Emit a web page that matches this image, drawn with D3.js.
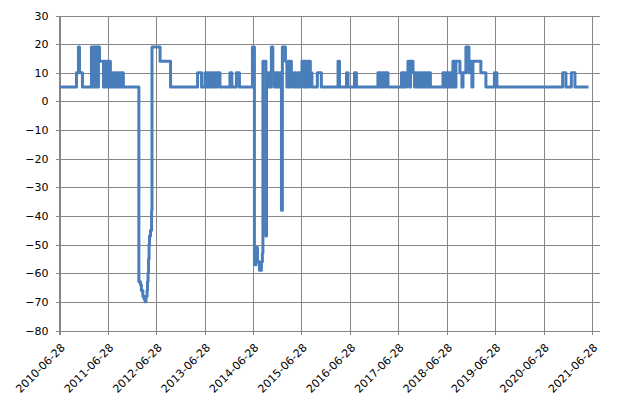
<!DOCTYPE html>
<html>
<head>
<meta charset="utf-8">
<script src="https://cdnjs.cloudflare.com/ajax/libs/d3/7.8.5/d3.min.js"></script>
<style>
  body { margin: 0; background: #fff; }
  .grid line, .grid path { stroke: #868686; shape-rendering: crispEdges; }
  .tick text { font-family: "DejaVu Sans", sans-serif; font-size: 11px; fill: #000; }
  .line { fill: none; stroke: #4a7ebb; stroke-width: 3px; stroke-linejoin: round; }
</style>
</head>
<body>
<div id="chart"></div>
<script>
// change points of the series (value holds until the next date)
var dates = [
  "2010-06-28","2010-11-03","2010-11-18","2010-11-26","2010-12-18",
  "2011-02-24","2011-03-07","2011-03-15","2011-03-26","2011-04-03","2011-04-14","2011-04-18","2011-04-26",
  "2011-05-26","2011-06-02","2011-06-13","2011-06-21","2011-07-02","2011-07-10","2011-07-17",
  "2011-07-25","2011-08-05","2011-08-13","2011-08-24","2011-09-01","2011-09-12","2011-09-19","2011-10-01","2011-10-08","2011-10-23",
  "2012-02-17","2012-02-29","2012-03-07","2012-03-18","2012-03-27","2012-04-04","2012-04-11","2012-04-19",
  "2012-04-22","2012-04-26","2012-04-30","2012-05-04","2012-05-07","2012-05-15","2012-05-23","2012-05-26",
  "2012-07-26","2012-10-13",
  "2013-05-05","2013-06-04",
  "2013-06-30","2013-07-11","2013-07-19","2013-07-30","2013-08-07","2013-08-18","2013-08-26","2013-09-06","2013-09-13","2013-09-24","2013-10-02","2013-10-21",
  "2014-01-04","2014-01-19","2014-02-22","2014-03-17",
  "2014-06-23","2014-07-08","2014-07-20","2014-07-31","2014-08-15","2014-08-30","2014-09-06","2014-09-10","2014-10-03","2014-10-07",
  "2014-10-18","2014-10-26","2014-11-06","2014-11-13","2014-11-24","2014-12-06","2014-12-13","2014-12-25",
  "2015-01-01","2015-01-12","2015-01-20","2015-01-28","2015-02-04","2015-02-27","2015-03-10","2015-03-18","2015-03-29","2015-04-06","2015-04-13","2015-04-24","2015-05-02","2015-05-17","2015-06-01","2015-06-12","2015-06-20",
  "2015-07-02","2015-07-13","2015-07-20","2015-08-01","2015-08-08","2015-08-19","2015-08-27","2015-09-03","2015-09-15","2015-10-26","2015-11-25",
  "2016-03-30","2016-04-10","2016-06-02","2016-06-13","2016-08-01","2016-08-16",
  "2017-01-25","2017-02-06","2017-02-13","2017-02-24","2017-03-04","2017-03-16","2017-03-23","2017-04-11",
  "2017-07-22","2017-08-02","2017-08-09","2017-08-21","2017-08-29","2017-09-09","2017-09-20","2017-09-28","2017-10-17","2017-10-28","2017-11-04","2017-11-16","2017-11-23","2017-12-08","2017-12-20","2017-12-31",
  "2018-01-07","2018-01-19","2018-01-26","2018-02-07","2018-02-14","2018-02-25",
  "2018-05-31","2018-06-11","2018-06-19","2018-06-30","2018-07-08","2018-07-19","2018-07-26","2018-08-07","2018-08-14","2018-08-29","2018-09-06","2018-10-06","2018-10-21","2018-10-29","2018-11-20","2018-12-13","2018-12-24",
  "2019-01-04","2019-01-12","2019-03-13","2019-04-20","2019-06-23","2019-07-12",
  "2020-11-19","2020-12-14","2021-01-24","2021-02-20","2021-06-02"
];

var values = [
  5,10,19,10,5,
  19,5,19,5,19,5,19,14,
  5,14,5,14,5,14,5,
  10,5,10,5,10,5,10,5,10,5,
  -63,-64,-66,-68,-69,-70,-68,-66,
  -63,-60,-55,-50,-47,-45,-38,19,
  14,5,
  10,5,
  10,5,10,5,10,5,10,5,10,5,10,5,
  10,5,10,5,
  19,-57,-51,-56,-59,-56,-53,14,-47,10,
  5,10,5,19,10,5,10,5,
  10,5,10,-38,19,14,5,14,5,14,10,5,10,5,10,5,10,
  14,5,14,5,14,5,14,10,5,10,5,
  14,5,10,5,10,5,
  10,5,10,5,10,5,10,5,
  10,5,10,5,10,14,5,14,10,5,10,5,10,5,10,5,
  10,5,10,5,10,5,
  10,5,10,5,10,5,10,5,14,5,14,10,5,10,19,10,14,
  5,14,10,5,10,5,
  10,5,10,5,5
];

// axis ticks
var xTicks = ["2010-06-28","2011-06-28","2012-06-28","2013-06-28","2014-06-28","2015-06-28",
              "2016-06-28","2017-06-28","2018-06-28","2019-06-28","2020-06-28","2021-06-28"];
var yTicks = [-80,-70,-60,-50,-40,-30,-20,-10,0,10,20,30];
var xDomain = ["2010-06-28","2021-08-28"];

var parseTime = d3.timeParse("%Y-%m-%d");
var formatTime = d3.timeFormat("%Y-%m-%d");

var data = dates.map(function(d, i) { return {date: parseTime(d), value: values[i]}; });

// plot area
var margin = {top: 15.5, left: 59.5},
    width = 540.5,
    height = 315;

var svg = d3.select("#chart").append("svg")
    .attr("width", 626)
    .attr("height", 403)
  .append("g")
    .attr("transform", "translate(" + margin.left + "," + margin.top + ")");

var x = d3.scaleTime().domain(xDomain.map(parseTime)).range([0, width]);
var y = d3.scaleLinear().domain([-80, 30]).range([height, 0]);

// horizontal grid + y labels
var yAxis = svg.append("g")
    .attr("class", "grid")
    .call(d3.axisLeft(y).tickValues(yTicks).tickSizeOuter(0).tickSizeInner(-width));
yAxis.select(".domain").remove();
yAxis.selectAll(".tick line").attr("x1", -4);
yAxis.selectAll(".tick text").attr("x", -11);

// vertical grid + x labels
var xAxis = svg.append("g")
    .attr("class", "grid")
    .attr("transform", "translate(0," + height + ")")
    .call(d3.axisBottom(x).tickValues(xTicks.map(parseTime)).tickFormat(formatTime)
      .tickSizeOuter(0).tickSizeInner(-height));
xAxis.select(".domain").remove();
xAxis.selectAll(".tick line").attr("y1", 4);
xAxis.selectAll(".tick text")
    .attr("y", 0)
    .attr("dy", "0.35em")
    .attr("transform", "translate(3,15) rotate(-45)")
    .style("text-anchor", "end");

// left axis line
svg.append("line")
    .attr("x1", 0).attr("x2", 0)
    .attr("y1", 0).attr("y2", height + 4)
    .style("stroke", "#868686")
    .style("shape-rendering", "crispEdges");

// the series
var valueline = d3.line()
    .curve(d3.curveStepAfter)
    .x(function(d) { return x(d.date); })
    .y(function(d) { return y(d.value); });

svg.append("path")
    .datum(data)
    .attr("class", "line")
    .attr("d", valueline);
</script>
</body>
</html>
